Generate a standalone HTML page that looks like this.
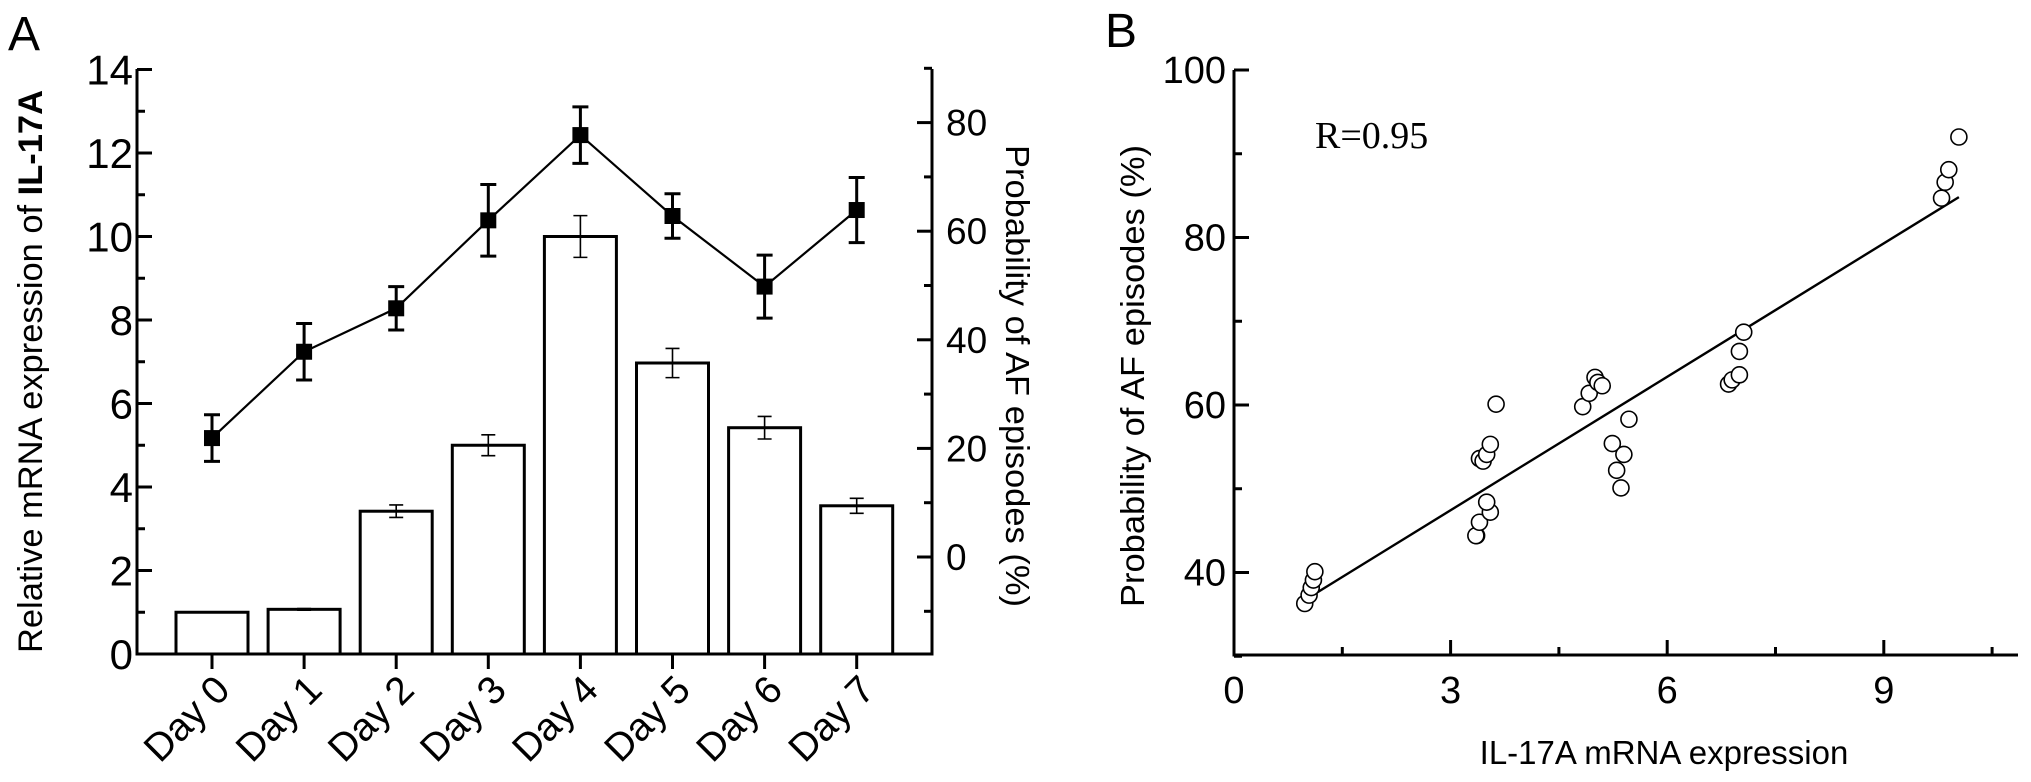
<!DOCTYPE html>
<html><head><meta charset="utf-8"><style>
html,body{margin:0;padding:0;background:#fff;}
svg{display:block;}
text{font-family:"Liberation Sans",Arial,sans-serif;fill:#000;}
.nar{font-family:"Liberation Sans Narrow","Liberation Sans",sans-serif;}
</style></head><body>
<svg id="fig" width="2031" height="782" viewBox="0 0 2031 782" xmlns="http://www.w3.org/2000/svg">
<text x="8" y="50" font-size="48">A</text>
<text x="1105" y="47" font-size="48">B</text>
<g id="ga"></g>
<g id="gb"></g>
<text transform="translate(42,653) rotate(-90)" font-size="34" textLength="563" lengthAdjust="spacingAndGlyphs">Relative mRNA expression of <tspan font-weight="bold">IL-17A</tspan></text>
<text transform="translate(1006,145) rotate(90)" font-size="33" textLength="462" lengthAdjust="spacingAndGlyphs">Probability of AF episodes (%)</text>
<text transform="translate(1144,607) rotate(-90)" font-size="33" textLength="462" lengthAdjust="spacingAndGlyphs">Probability of AF episodes (%)</text>
<text x="1664" y="764" text-anchor="middle" font-size="33" class="nar">IL-17A mRNA expression</text>
<text x="1315" y="148" font-size="38" style="font-family:'Liberation Serif',serif">R=0.95</text>
</svg>
<script>
// Panel A data
const days = ["Day 0","Day 1","Day 2","Day 3","Day 4","Day 5","Day 6","Day 7"];
const barValues = [1.0,1.07,3.42,5.0,10.0,6.97,5.42,3.55];
const barErrors = [0,0.02,0.15,0.25,0.5,0.35,0.27,0.18];
const lineValues = [21.9,37.8,45.8,62.0,77.7,62.8,49.8,63.9];
const lineErrors = [4.3,5.2,4.0,6.6,5.2,4.1,5.8,6.0];
const leftTicks = [0,2,4,6,8,10,12,14];
const rightTicks = [0,20,40,60,80];
// Panel B data
const scatterX = [0.98,1.04,1.07,1.1,1.12,3.36,3.35,3.4,3.55,3.5,3.4,3.45,3.5,3.55,3.63,4.83,4.92,5.0,5.04,5.1,5.24,5.4,5.3,5.36,5.47,6.85,6.9,7.0,7.0,7.06,9.8,9.85,9.9,10.04];
const scatterY = [36.3,37.3,38.2,39.1,40.1,44.4,44.4,46.0,47.2,48.4,53.6,53.3,54.1,55.3,60.1,59.8,61.4,63.3,62.7,62.3,55.4,54.1,52.2,50.1,58.3,62.5,63.0,63.6,66.4,68.7,84.7,86.6,88.1,92.0];
const bxTicks = [0,3,6,9];
const byTicks = [40,60,80,100];

const NS="http://www.w3.org/2000/svg";
function mk(parent,tag,attrs){const e=document.createElementNS(NS,tag);for(const k in attrs)e.setAttribute(k,attrs[k]);parent.appendChild(e);return e;}

// ---- Panel A ----
const ga=document.getElementById('ga');
const AX0=137, AX1=932, AY0=654;
const yL=v=>AY0-v*41.75;
const yR=v=>557-v*5.43;
const xD=i=>212+i*92.1;
let e;
barValues.forEach((v,i)=>{
  e=mk(ga,'rect',{x:xD(i)-36,y:yL(v),width:72,height:AY0-yL(v),fill:'#fff',stroke:'#000','stroke-width':3});
  
  
  if(barErrors[i]>0){
    const t=yL(v+barErrors[i]),b=yL(v-barErrors[i]);
    e=mk(ga,'path',{d:`M${xD(i)},${t}V${b}M${xD(i)-7},${t}h14M${xD(i)-7},${b}h14`,stroke:'#000','stroke-width':1.6,fill:'none'});
    
    
  }
});
let pd='';
lineValues.forEach((v,i)=>{pd+=(i?'L':'M')+xD(i)+','+yR(v);});
e=mk(ga,'path',{d:pd,stroke:'#000','stroke-width':2.2,fill:'none'});


lineValues.forEach((v,i)=>{
  const t=yR(v+lineErrors[i]),b=yR(v-lineErrors[i]);
  e=mk(ga,'path',{d:`M${xD(i)},${t}V${b}M${xD(i)-8},${t}h16M${xD(i)-8},${b}h16`,stroke:'#000','stroke-width':3,fill:'none'});
  
  
  e=mk(ga,'rect',{x:xD(i)-8,y:yR(v)-8,width:16,height:16,fill:'#000'});
  
  
});
e=mk(ga,'path',{d:`M${AX0},69V${AY0}H${AX1}V69`,stroke:'#000','stroke-width':3,fill:'none'});


for(let v=0;v<=14;v++){
  e=mk(ga,'line',{x1:AX0,x2:AX0+(v%2?8:15),y1:yL(v),y2:yL(v),stroke:'#000','stroke-width':3});
  
  
}
leftTicks.forEach(v=>{
  e=mk(ga,'text',{x:AX0-4,y:yL(v)+15,'text-anchor':'end','font-size':42});
  e.textContent=v;
  
  
});
for(let v=-10;v<=90;v+=10){
  e=mk(ga,'line',{x1:AX1,x2:AX1-(v%20?8:15),y1:yR(v),y2:yR(v),stroke:'#000','stroke-width':3});
  
  
}
rightTicks.forEach(v=>{
  e=mk(ga,'text',{x:AX1+14,y:yR(v)+13,'font-size':37,'class':'nar'});
  e.textContent=v;
  
  
});
days.forEach((d,i)=>{
  e=mk(ga,'line',{x1:xD(i),x2:xD(i),y1:AY0,y2:AY0+15,stroke:'#000','stroke-width':3});
  
  
  e=mk(ga,'text',{transform:`translate(${xD(i)+20},${AY0+38}) rotate(-45)`,'text-anchor':'end','font-size':39});
  e.textContent=d;
  
  
});

// ---- Panel B ----
const gb=document.getElementById('gb');
const BX0=1234, BY0=655, BXE=2018;
const xB=v=>BX0+v*72.2;
const yB=v=>70+(100-v)*8.375;
const n=scatterX.length;
const mx=scatterX.reduce((a,b)=>a+b)/n, my=scatterY.reduce((a,b)=>a+b)/n;
let sxy=0,sxx=0;for(let i=0;i<n;i++){sxy+=(scatterX[i]-mx)*(scatterY[i]-my);sxx+=(scatterX[i]-mx)**2;}
const slope=sxy/sxx, icpt=my-slope*mx;
const xmin=Math.min(...scatterX), xmax=Math.max(...scatterX);
e=mk(gb,'line',{x1:xB(xmin),y1:yB(icpt+slope*xmin),x2:xB(xmax),y2:yB(icpt+slope*xmax),stroke:'#000','stroke-width':2.4});


for(let i=0;i<n;i++){
  e=mk(gb,'circle',{cx:xB(scatterX[i]),cy:yB(scatterY[i]),r:8,fill:'#fff',stroke:'#000','stroke-width':1.6});
  
  
}
e=mk(gb,'path',{d:`M${BX0},70V${BY0}H${BXE}`,stroke:'#000','stroke-width':3,fill:'none'});


for(let v=30;v<=100;v+=10){
  e=mk(gb,'line',{x1:BX0,x2:BX0+(v%20?8:15),y1:yB(v),y2:yB(v),stroke:'#000','stroke-width':3});
  
  
}
for(let v=1.5;v<=10.5;v+=1.5){
  e=mk(gb,'line',{x1:xB(v),x2:xB(v),y1:BY0,y2:BY0-(v%3?8:15),stroke:'#000','stroke-width':3});
  
  
}
byTicks.forEach(v=>{
  e=mk(gb,'text',{x:BX0-8,y:yB(v)+13,'text-anchor':'end','font-size':38,'class':'nar'});
  e.textContent=v;
  
  
});
bxTicks.forEach(v=>{
  e=mk(gb,'text',{x:xB(v),y:BY0+48,'text-anchor':'middle','font-size':38,'class':'nar'});
  e.textContent=v;
  
  
});
</script>
</body></html>
